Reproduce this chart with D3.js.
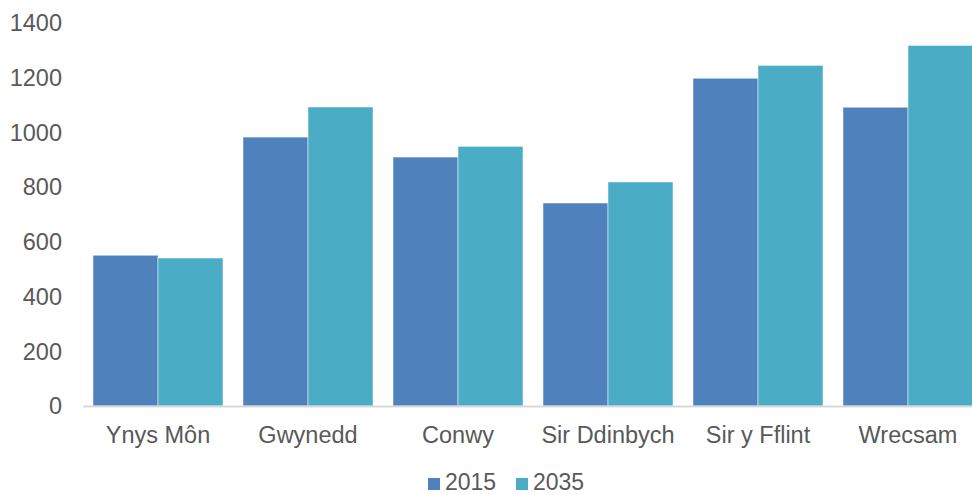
<!DOCTYPE html>
<html>
<head>
  <meta charset="utf-8">
  <title>2015 / 2035</title>
  <script src="https://cdn.jsdelivr.net/npm/d3@7"></script>
  <style>
    body { margin: 0; background: #fff; }
    svg text { font-family: "Liberation Sans", Arial, sans-serif; fill: #595959; }
  </style>
</head>
<body>
<svg id="chart" width="972" height="495"></svg>
<script>
  // values
  var categories = ['Ynys Môn', 'Gwynedd', 'Conwy', 'Sir Ddinbych', 'Sir y Fflint', 'Wrecsam'];
  var seriesNames = ['2015', '2035'];
  var values2015 = [551, 983, 910, 742, 1198, 1092];
  var values2035 = [541, 1093, 949, 819, 1245, 1318];
  var yTicks = [0, 200, 400, 600, 800, 1000, 1200, 1400];
  var colors = ['#4f81bd', '#4bacc6'];

  var series = [values2015, values2035];
  var svg = d3.select('#chart');

  var x = d3.scaleBand()
    .domain(categories)
    .range([83, 983])
    .paddingInner(20 / 150)
    .paddingOuter(10 / 150);

  var xInner = d3.scaleBand()
    .domain(seriesNames)
    .range([0, x.bandwidth()]);

  var y = d3.scaleLinear()
    .domain([0, 1400])
    .range([406, 23]);

  // y tick labels (no gridlines)
  svg.append('g').selectAll('text')
    .data(yTicks)
    .enter().append('text')
      .attr('x', 62)
      .attr('y', function(d) { return y(d); })
      .attr('dy', '0.35em')
      .attr('text-anchor', 'end')
      .style('font-size', '23.5px')
      .text(function(d) { return d; });

  // bars
  var groups = svg.append('g').selectAll('g')
    .data(categories)
    .enter().append('g')
      .attr('transform', function(d) { return 'translate(' + x(d) + ',0)'; });

  groups.selectAll('rect')
    .data(function(d, i) {
      return seriesNames.map(function(s, j) { return { name: s, value: series[j][i], idx: j }; });
    })
    .enter().append('rect')
      .attr('x', function(d) { return xInner(d.name); })
      .attr('y', function(d) { return y(d.value); })
      .attr('width', xInner.bandwidth())
      .attr('height', function(d) { return y(0) - y(d.value); })
      .attr('fill', function(d) { return colors[d.idx]; })
      .attr('stroke', '#ffffff')
      .attr('stroke-opacity', 0.5)
      .attr('stroke-width', 1);

  // x axis line
  svg.append('line')
    .attr('x1', 83).attr('x2', 983)
    .attr('y1', 406.5).attr('y2', 406.5)
    .attr('stroke', '#d9d9d9')
    .attr('stroke-width', 2);

  // category labels
  svg.append('g').selectAll('text')
    .data(categories)
    .enter().append('text')
      .attr('x', function(d) { return x(d) + x.bandwidth() / 2; })
      .attr('y', 443)
      .attr('text-anchor', 'middle')
      .style('font-size', '23.5px')
      .text(function(d) { return d; });

  // legend
  var legend = svg.append('g').selectAll('g')
    .data(seriesNames)
    .enter().append('g')
      .attr('transform', function(d, i) { return 'translate(' + (428 + i * 88) + ',478)'; });
  legend.append('rect')
    .attr('width', 12).attr('height', 12)
    .attr('fill', function(d, i) { return colors[i]; });
  legend.append('text')
    .attr('x', 17)
    .attr('y', 12)
    .style('font-size', '23px')
    .text(function(d) { return d; });
</script>
</body>
</html>
